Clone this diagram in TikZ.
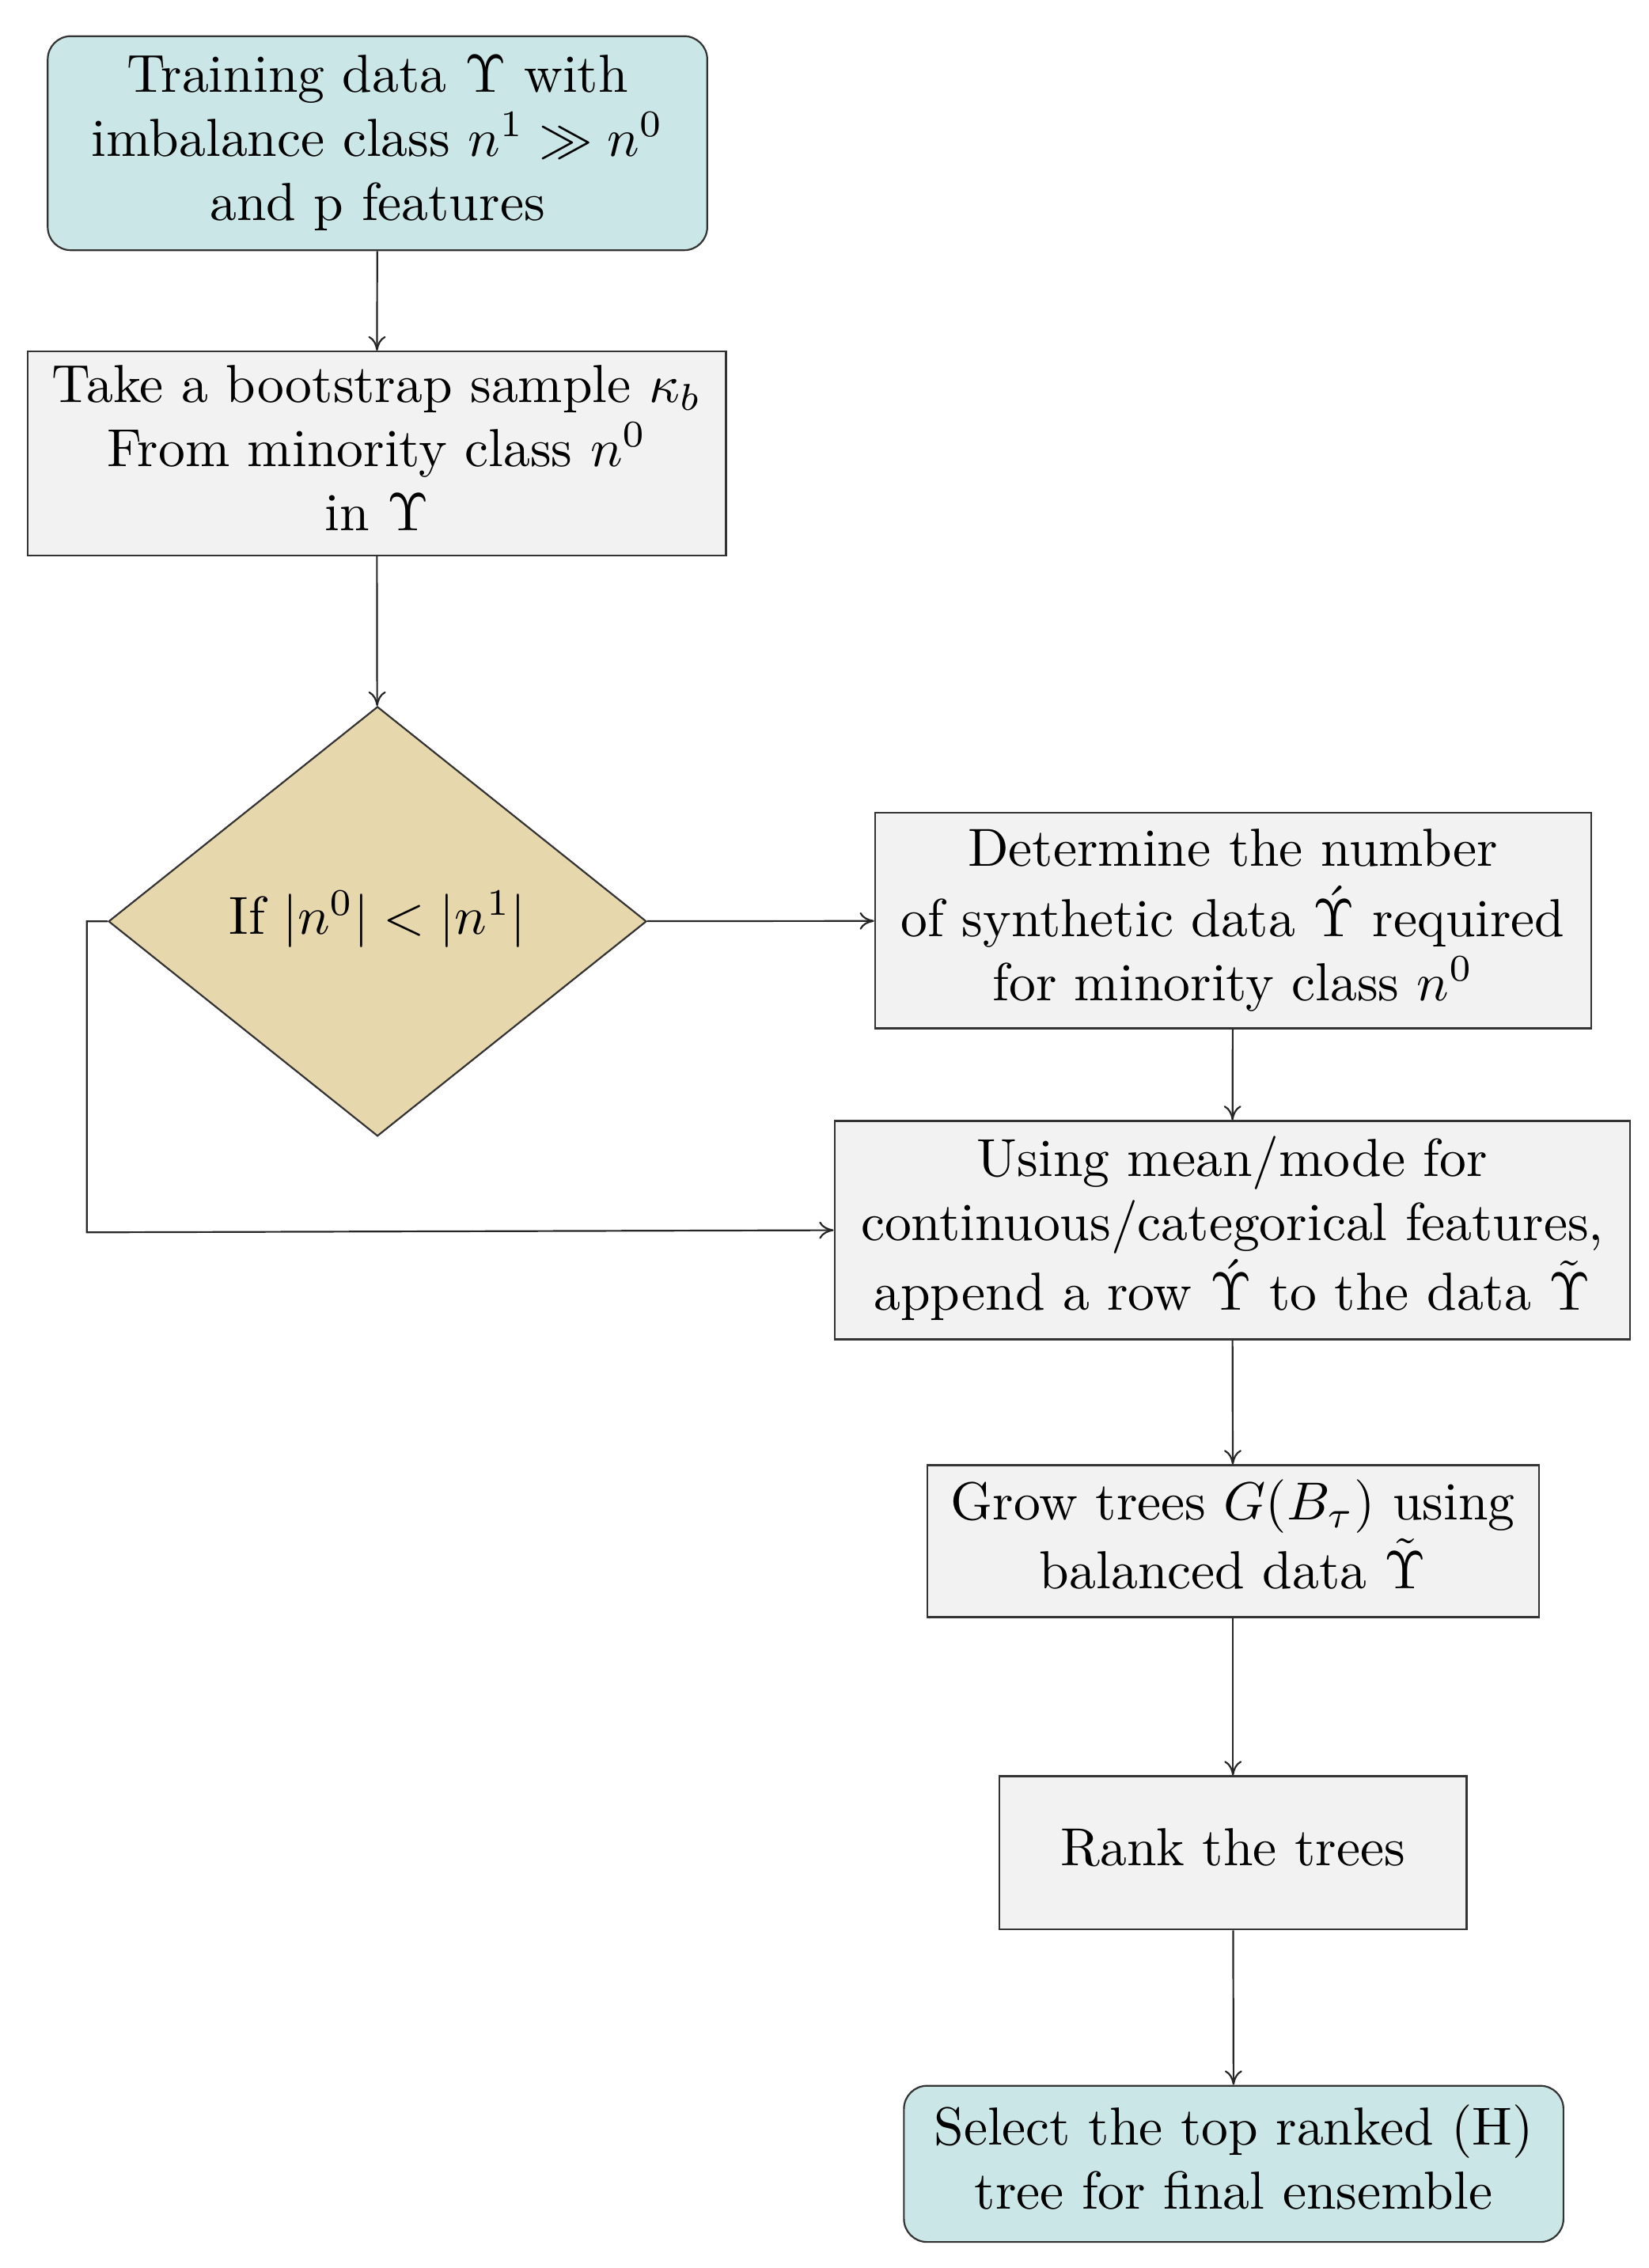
\documentclass[tikz,border=0pt]{standalone}
\usepackage{amssymb,graphicx}
\usetikzlibrary{shapes.geometric,arrows.meta}
\newcommand\TT[1]{\scalebox{1.85}{\fontsize{10}{12}\selectfont\begin{tabular}{@{}c@{}}#1\end{tabular}}}
\begin{document}
\begin{tikzpicture}[x=0.5pt,y=-0.5pt,
  box/.style={draw=black!80,line width=0.6pt,fill=black!5,align=center,inner sep=0pt},
  term/.style={box,fill={rgb,255:red,202;green,230;blue,230},rounded corners=8pt},
  arr/.style={-{To[length=5pt,width=6pt]},line width=0.6pt,draw=black!85}]
\useasboundingbox (0,0) rectangle (1140,1568);
\node[term,minimum width=228pt,minimum height=74pt] (a) at (261,99) {\TT{Training data $\Upsilon$ with\\imbalance class $n^1\gg n^0$\\and p features}};
\node[box,minimum width=241.5pt,minimum height=70.5pt] (b) at (260.5,313.5) {\TT{Take a bootstrap sample $\kappa_b$\\From minority class $n^0$\\in $\Upsilon$}};
\node[diamond,draw=black!80,line width=0.6pt,fill={rgb,255:red,230;green,216;blue,172},inner sep=0pt,minimum width=186pt,minimum height=148.5pt,aspect=1.25] (c) at (261,637) {\TT{If $|n^0|<|n^1|$}};
\node[box,minimum width=247.5pt,minimum height=74.5pt] (d) at (852.5,636.5) {\TT{Determine the number\\of synthetic data $\acute{\Upsilon}$ required\\for minority class $n^0$}};
\node[box,minimum width=275pt,minimum height=75.5pt] (e) at (852,850.5) {\TT{Using mean/mode for\\continuous/categorical features,\\append a row $\acute{\Upsilon}$ to the data $\tilde{\Upsilon}$}};
\node[box,minimum width=211.5pt,minimum height=52.5pt] (f) at (852.5,1065.5) {\TT{Grow trees $G(B_\tau)$ using\\balanced data $\tilde{\Upsilon}$}};
\node[box,minimum width=161.5pt,minimum height=53pt] (g) at (852.5,1281) {\TT{Rank the trees}};
\node[term,minimum width=228pt,minimum height=54pt] (h) at (853,1496) {\TT{Select the top ranked (H)\\tree for final ensemble}};
\coordinate (l1) at (60,637);
\coordinate (l2) at (60,852);
\draw[arr] (a) -- (b);
\draw[arr] (b) -- (c);
\draw[arr] (c) -- (d);
\draw[arr] (d) -- (e);
\draw[arr] (c.west) -- (l1) -- (l2) -- (e.west);
\draw[arr] (e) -- (f);
\draw[arr] (f) -- (g);
\draw[arr] (g) -- (h);
\end{tikzpicture}
\end{document}
